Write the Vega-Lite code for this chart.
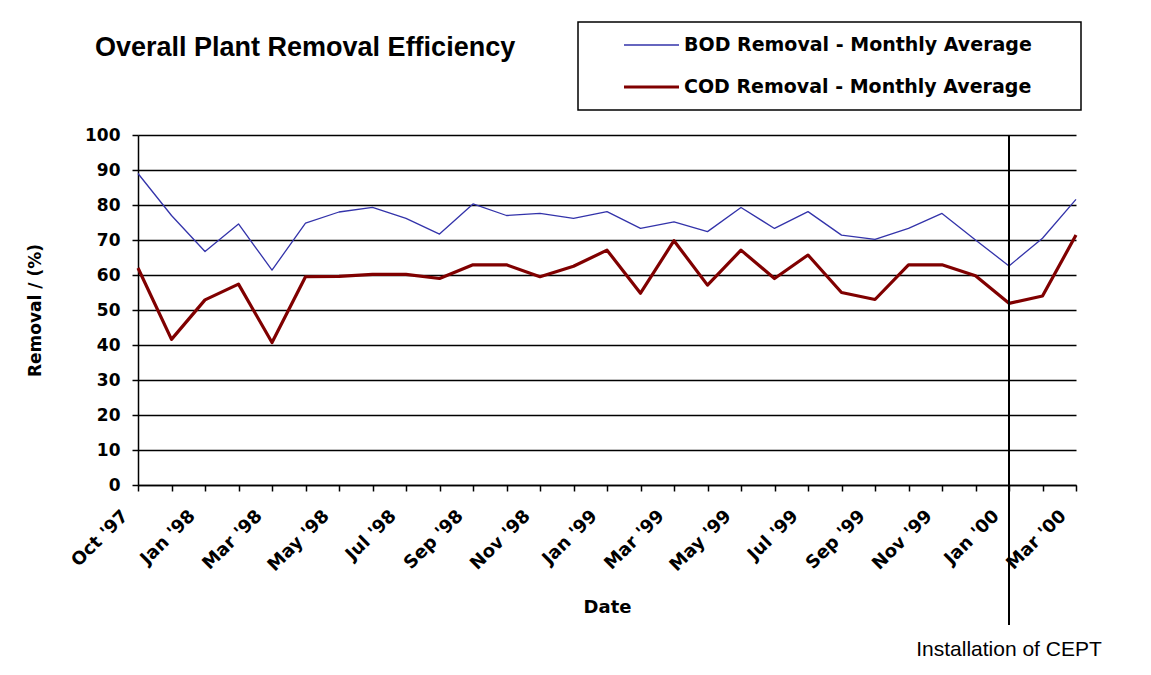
{
  "$schema": "https://vega.github.io/schema/vega-lite/v6.json",
  "width": 938,
  "height": 350,
  "autosize": {"type": "none"},
  "padding": {"left": 138, "top": 135, "right": 75, "bottom": 190},
  "background": "white",
  "title": {
    "text": "Overall Plant Removal Efficiency",
    "anchor": "start",
    "frame": "group",
    "dx": -43,
    "dy": 29,
    "offset": -33,
    "baseline": "alphabetic",
    "font": "Liberation Sans",
    "fontSize": 27,
    "fontWeight": "bold",
    "color": "black"
  },
  "data": {
    "values": [
      {"month": "Oct '97", "BOD Removal - Monthly Average": 89.0, "COD Removal - Monthly Average": 62.0},
      {"month": "Dec '97", "BOD Removal - Monthly Average": 77.0, "COD Removal - Monthly Average": 41.6},
      {"month": "Jan '98", "BOD Removal - Monthly Average": 66.7, "COD Removal - Monthly Average": 52.9},
      {"month": "Feb '98", "BOD Removal - Monthly Average": 74.6, "COD Removal - Monthly Average": 57.4},
      {"month": "Mar '98", "BOD Removal - Monthly Average": 61.4, "COD Removal - Monthly Average": 40.7},
      {"month": "Apr '98", "BOD Removal - Monthly Average": 74.8, "COD Removal - Monthly Average": 59.5},
      {"month": "May '98", "BOD Removal - Monthly Average": 78.0, "COD Removal - Monthly Average": 59.6},
      {"month": "Jun '98", "BOD Removal - Monthly Average": 79.3, "COD Removal - Monthly Average": 60.2},
      {"month": "Jul '98", "BOD Removal - Monthly Average": 76.2, "COD Removal - Monthly Average": 60.2},
      {"month": "Aug '98", "BOD Removal - Monthly Average": 71.7, "COD Removal - Monthly Average": 59.0},
      {"month": "Sep '98", "BOD Removal - Monthly Average": 80.3, "COD Removal - Monthly Average": 62.9},
      {"month": "Oct '98", "BOD Removal - Monthly Average": 77.0, "COD Removal - Monthly Average": 62.9},
      {"month": "Nov '98", "BOD Removal - Monthly Average": 77.6, "COD Removal - Monthly Average": 59.5},
      {"month": "Dec '98", "BOD Removal - Monthly Average": 76.2, "COD Removal - Monthly Average": 62.5},
      {"month": "Jan '99", "BOD Removal - Monthly Average": 78.1, "COD Removal - Monthly Average": 67.1},
      {"month": "Feb '99", "BOD Removal - Monthly Average": 73.3, "COD Removal - Monthly Average": 54.8},
      {"month": "Mar '99", "BOD Removal - Monthly Average": 75.2, "COD Removal - Monthly Average": 69.8},
      {"month": "Apr '99", "BOD Removal - Monthly Average": 72.4, "COD Removal - Monthly Average": 57.1},
      {"month": "May '99", "BOD Removal - Monthly Average": 79.3, "COD Removal - Monthly Average": 67.1},
      {"month": "Jun '99", "BOD Removal - Monthly Average": 73.3, "COD Removal - Monthly Average": 59.0},
      {"month": "Jul '99", "BOD Removal - Monthly Average": 78.1, "COD Removal - Monthly Average": 65.7},
      {"month": "Aug '99", "BOD Removal - Monthly Average": 71.4, "COD Removal - Monthly Average": 55.0},
      {"month": "Sep '99", "BOD Removal - Monthly Average": 70.2, "COD Removal - Monthly Average": 53.0},
      {"month": "Oct '99", "BOD Removal - Monthly Average": 73.3, "COD Removal - Monthly Average": 62.9},
      {"month": "Nov '99", "BOD Removal - Monthly Average": 77.6, "COD Removal - Monthly Average": 62.9},
      {"month": "Dec '99", "BOD Removal - Monthly Average": 70.0, "COD Removal - Monthly Average": 59.8},
      {"month": "Jan '00", "BOD Removal - Monthly Average": 62.6, "COD Removal - Monthly Average": 51.9, "event": "Installation of CEPT"},
      {"month": "Feb '00", "BOD Removal - Monthly Average": 70.5, "COD Removal - Monthly Average": 54.0},
      {"month": "Mar '00", "BOD Removal - Monthly Average": 81.6, "COD Removal - Monthly Average": 71.4}
    ]
  },
  "encoding": {
    "x": {
      "field": "month",
      "type": "nominal",
      "sort": null,
      "scale": {"type": "point", "padding": 0},
      "axis": {
        "title": "Date",
        "labelAngle": -45,
        "labelAlign": "right",
        "labelBaseline": "middle",
        "labelPadding": 22,
        "labelOffset": -13,
        "labelFontSize": 18,
        "labelOverlap": false,
        "labelExpr": "indexof(['Dec','Feb','Apr','Jun','Aug'], slice(datum.label,0,3)) >= 0 || datum.label == \"Oct '98\" || datum.label == \"Oct '99\" ? '' : datum.label",
        "titleFontSize": 18,
        "titlePadding": 24,
        "grid": false
      }
    }
  },
  "layer": [
    {
      "transform": [
        {"fold": ["BOD Removal - Monthly Average", "COD Removal - Monthly Average"], "as": ["series", "value"]}
      ],
      "mark": {"type": "line", "strokeJoin": "round"},
      "encoding": {
        "y": {
          "field": "value",
          "type": "quantitative",
          "scale": {"domain": [0, 100], "nice": false},
          "axis": {
            "title": "Removal / (%)",
            "values": [0, 10, 20, 30, 40, 50, 60, 70, 80, 90, 100],
            "labelOverlap": false,
            "grid": true,
            "gridColor": "black",
            "gridWidth": 1.5,
            "gridOpacity": 1,
            "labelFontSize": 17,
            "labelPadding": 12,
            "titleFontSize": 17,
            "titlePadding": 40
          }
        },
        "color": {
          "field": "series",
          "type": "nominal",
          "scale": {
            "domain": ["BOD Removal - Monthly Average", "COD Removal - Monthly Average"],
            "range": ["#3333AA", "#800000"]
          },
          "legend": {"title": "\u00a0", "titleOrient": "right", "titleFontSize": 10, "titlePadding": 36}
        },
        "strokeWidth": {
          "field": "series",
          "type": "nominal",
          "scale": {
            "domain": ["BOD Removal - Monthly Average", "COD Removal - Monthly Average"],
            "range": [1.3, 3.2]
          },
          "legend": {"title": "\u00a0", "titleOrient": "right", "titleFontSize": 10, "titlePadding": 36}
        }
      }
    },
    {
      "transform": [{"filter": "isValid(datum.event)"}],
      "mark": {"type": "rule", "color": "black", "strokeWidth": 2},
      "encoding": {
        "y": {
          "datum": 100,
          "type": "quantitative",
          "axis": {
            "title": "Removal / (%)",
            "values": [0, 10, 20, 30, 40, 50, 60, 70, 80, 90, 100],
            "labelOverlap": false,
            "grid": true,
            "gridColor": "black",
            "gridWidth": 1.5,
            "gridOpacity": 1,
            "labelFontSize": 17,
            "labelPadding": 12,
            "titleFontSize": 17,
            "titlePadding": 40
          }
        },
        "y2": {"datum": -40}
      }
    },
    {
      "transform": [{"filter": "isValid(datum.event)"}],
      "mark": {
        "type": "text",
        "font": "Liberation Sans",
        "fontSize": 21,
        "fontWeight": "normal",
        "align": "center",
        "baseline": "middle",
        "color": "black"
      },
      "encoding": {
        "y": {
          "datum": -47,
          "type": "quantitative",
          "axis": {
            "title": "Removal / (%)",
            "values": [0, 10, 20, 30, 40, 50, 60, 70, 80, 90, 100],
            "labelOverlap": false,
            "grid": true,
            "gridColor": "black",
            "gridWidth": 1.5,
            "gridOpacity": 1,
            "labelFontSize": 17,
            "labelPadding": 12,
            "titleFontSize": 17,
            "titlePadding": 40
          }
        },
        "text": {"field": "event"}
      }
    }
  ],
  "config": {
    "view": {"stroke": null},
    "font": "DejaVu Sans",
    "axis": {
      "domainColor": "black",
      "domainWidth": 1.5,
      "tickColor": "black",
      "tickWidth": 1.5,
      "tickSize": 6,
      "labelColor": "black",
      "titleColor": "black",
      "labelFont": "DejaVu Sans",
      "labelFontWeight": "bold",
      "titleFont": "DejaVu Sans",
      "titleFontWeight": "bold"
    },
    "legend": {
      "orient": "none",
      "legendX": 440,
      "legendY": -113,
      "padding": 13,
      "strokeColor": "black",
      "strokeWidth": 1.5,
      "fillColor": "white",
      "symbolType": "stroke",
      "symbolSize": 3025,
      "symbolOffset": 31,
      "clipHeight": 20,
      "rowPadding": 22,
      "labelOffset": 3,
      "labelFont": "DejaVu Sans",
      "labelFontWeight": "bold",
      "labelFontSize": 19,
      "labelColor": "black",
      "labelLimit": 500
    }
  }
}
